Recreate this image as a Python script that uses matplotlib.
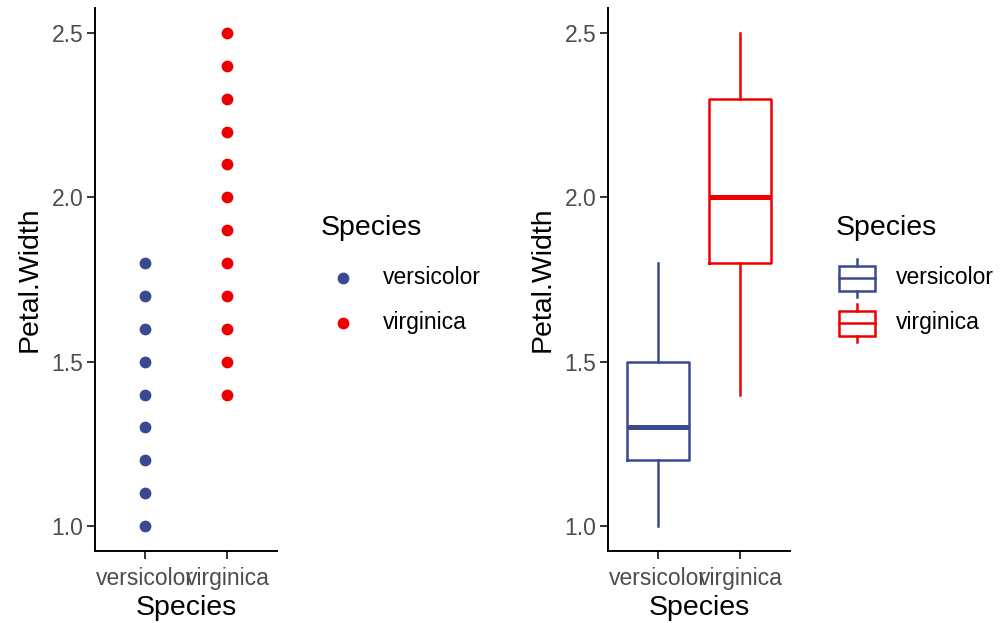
import matplotlib
matplotlib.use("Agg")
import matplotlib.pyplot as plt
from matplotlib.patches import Rectangle
from matplotlib.lines import Line2D

plt.rcParams['font.family'] = ['Liberation Sans', 'DejaVu Sans']

species = ["versicolor", "virginica"]
colors = ["#3B4992", "#EE0000"]
versicolor_pw = [1.0, 1.1, 1.2, 1.3, 1.4, 1.5, 1.6, 1.7, 1.8]
virginica_pw = [1.4, 1.5, 1.6, 1.7, 1.8, 1.9, 2.0, 2.1, 2.2, 2.3, 2.4, 2.5]
# box stats: whislo, q1, med, q3, whishi
versicolor_box = [1.0, 1.2, 1.3, 1.5, 1.8]
virginica_box = [1.4, 1.8, 2.0, 2.3, 2.5]
yticks = [1.0, 1.5, 2.0, 2.5]

W, H = 1003, 623
fig = plt.figure(figsize=(W / 100, H / 100), dpi=100)

def make_ax(x0, x1, y0=8.4, y1=550.6):
    ax = fig.add_axes([x0 / W, 1 - y1 / H, (x1 - x0) / W, (y1 - y0) / H])
    ax.set_xlim(0.4, 2.6)
    ax.set_ylim(0.925, 2.575)
    for s in ["top", "right"]:
        ax.spines[s].set_visible(False)
    for s in ["left", "bottom"]:
        ax.spines[s].set_linewidth(1.4)
        ax.spines[s].set_color("black")
    ax.set_xticks([1, 2])
    ax.set_xticklabels(species)
    ax.set_yticks(yticks)
    ax.set_yticklabels([f"{v:.1f}" for v in yticks])
    ax.tick_params(axis="both", length=5.5, width=1.4, color="#333333",
                   labelcolor="#4D4D4D", labelsize=16.5, pad=3)
    ax.tick_params(axis="x", pad=6)
    ax.set_xlabel("Species", fontsize=20.5, labelpad=4)
    ax.set_ylabel("Petal.Width", fontsize=20.5, labelpad=6)
    return ax

ax1 = make_ax(95, 277)
for i, vals in enumerate([versicolor_pw, virginica_pw]):
    ax1.scatter([i + 1] * len(vals), vals, s=72, color=colors[i], zorder=3, linewidths=0)

ax2 = make_ax(608, 790)
stats = []
for i, b in enumerate([versicolor_box, virginica_box]):
    stats.append(dict(whislo=b[0], q1=b[1], med=b[2], q3=b[3], whishi=b[4], fliers=[]))
for i, st in enumerate(stats):
    c = colors[i]
    ax2.bxp([st], positions=[i + 1], widths=0.75, showcaps=False, showfliers=False,
            boxprops=dict(color=c, linewidth=1.8),
            whiskerprops=dict(color=c, linewidth=1.8),
            medianprops=dict(color=c, linewidth=3.6, solid_capstyle="butt"),
            manage_ticks=False)
ax2.set_xticks([1, 2])
ax2.set_xticklabels(species)

# legends in pixel overlay
ov = fig.add_axes([0, 0, 1, 1])
ov.set_xlim(0, W)
ov.set_ylim(H, 0)
ov.axis("off")

ov.text(321, 228, "Species", fontsize=20.5, va="center", ha="left")
for i, name in enumerate(species):
    y = 278 + 45 * i
    ov.scatter([343], [y], s=72, color=colors[i], linewidths=0)
    ov.text(383, y, name, fontsize=16.5, va="center", ha="left")

ov.text(836, 228, "Species", fontsize=20.5, va="center", ha="left")
for i, name in enumerate(species):
    y = 278 + 45 * i
    c = colors[i]
    ov.add_patch(Rectangle((839, y - 12.5), 36, 25, fill=False, edgecolor=c, linewidth=1.8))
    ov.add_line(Line2D([839, 875], [y, y], color=c, linewidth=1.8))
    ov.add_line(Line2D([857, 857], [y - 19, y - 12.5], color=c, linewidth=1.8))
    ov.add_line(Line2D([857, 857], [y + 12.5, y + 19], color=c, linewidth=1.8))
    ov.text(896, y, name, fontsize=16.5, va="center", ha="left")

fig.savefig("out.png", dpi=100)
